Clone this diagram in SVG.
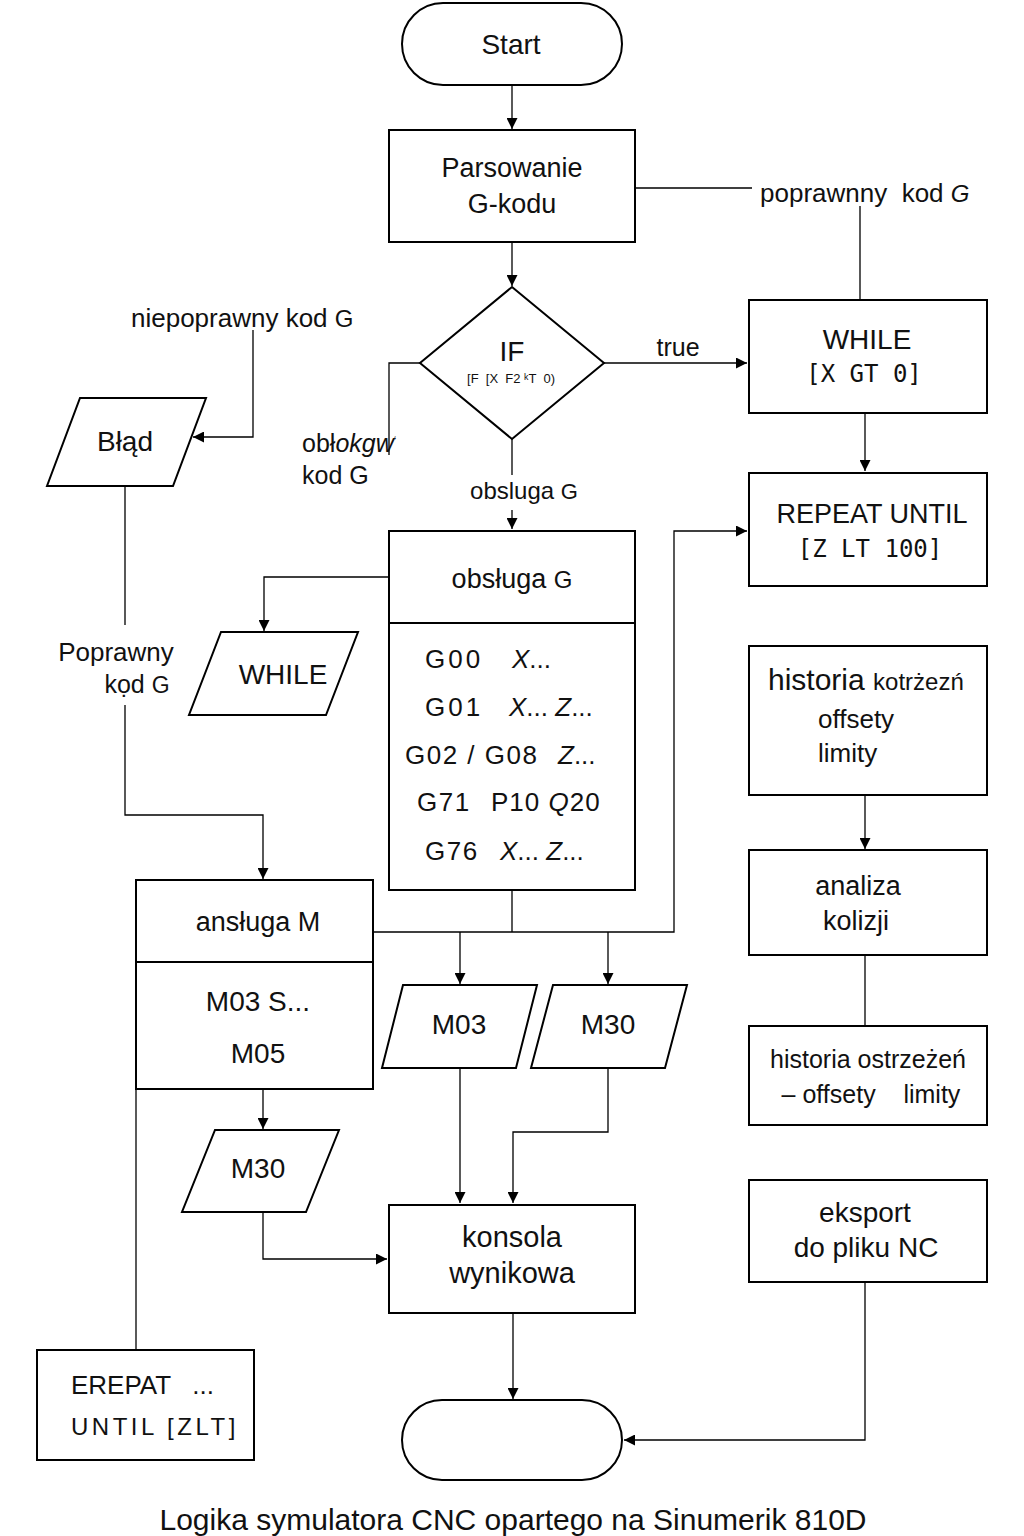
<svg xmlns="http://www.w3.org/2000/svg" width="1024" height="1536" viewBox="0 0 1024 1536" font-size="26">
<style>
.s{fill:#fff;stroke:#000;stroke-width:2}
.c{fill:none;stroke:#000;stroke-width:1.3}
text{font-family:"Liberation Sans",Arial,sans-serif;fill:#111}
.m{font-family:"DejaVu Sans Mono","Liberation Mono",monospace}
.mid{text-anchor:middle}
</style>
<defs>
<marker id="a" viewBox="0 0 10 10" refX="10" refY="5" markerWidth="11" markerHeight="11" markerUnits="userSpaceOnUse" orient="auto"><path d="M0,0L10,5L0,10Z" fill="#000"/></marker>
</defs>
<rect width="1024" height="1536" fill="#fff"/>
<g id="connectors">
<path class="c" d="M512,85V129" marker-end="url(#a)"/>
<path class="c" d="M635,188H752M860,206V300"/>
<path class="c" d="M512,242V286" marker-end="url(#a)"/>
<path class="c" d="M604,363H747" marker-end="url(#a)"/>
<path class="c" d="M420,363H389V455"/>
<path class="c" d="M512,439V475"/>
<path class="c" d="M512,510V529" marker-end="url(#a)"/>
<path class="c" d="M389,577H264V631" marker-end="url(#a)"/>
<path class="c" d="M865,413V471" marker-end="url(#a)"/>
<path class="c" d="M512,890V932M373,932H674V531H747" marker-end="url(#a)"/>
<path class="c" d="M460,932V984" marker-end="url(#a)"/>
<path class="c" d="M608,932V984" marker-end="url(#a)"/>
<path class="c" d="M460,1068V1203" marker-end="url(#a)"/>
<path class="c" d="M608,1068V1132H513V1203" marker-end="url(#a)"/>
<path class="c" d="M513,1313V1399" marker-end="url(#a)"/>
<path class="c" d="M865,1282V1440H624" marker-end="url(#a)"/>
<path class="c" d="M865,795V849" marker-end="url(#a)"/>
<path class="c" d="M865,955V1026"/>
<path class="c" d="M253,330V437H193" marker-end="url(#a)"/>
<path class="c" d="M125,486V625M125,705V815H263V879" marker-end="url(#a)"/>
<path class="c" d="M263,1089V1129" marker-end="url(#a)"/>
<path class="c" d="M263,1212V1259H387" marker-end="url(#a)"/>
<path class="c" d="M136,1089V1350"/>
<text x="760" y="202" font-size="26" xml:space="preserve">poprawnny  kod <tspan font-style="italic" font-size="24">G</tspan></text>
<text x="678" y="356" class="mid" font-size="25">true</text>
<text x="302" y="452" font-size="25">obł<tspan font-style="italic">okgw</tspan><tspan font-size="12" dy="-6">ʻ</tspan></text>
<text x="302" y="484" font-size="25">kod G</text>
<text x="524" y="499" class="mid" font-size="24">obsluga <tspan font-size="22">G</tspan></text>
<text x="131" y="327" font-size="26">niepoprawny kod <tspan font-size="24">G</tspan></text>
<text x="116" y="661" class="mid" font-size="26">Poprawny</text>
<text x="137" y="693" class="mid" font-size="25">kọd <tspan font-size="23">G</tspan></text>
</g>
<g id="start"><rect class="s" x="402" y="3" width="220" height="82" rx="41"/><text x="511" y="54" class="mid" font-size="28">Start</text></g>
<g id="parse"><rect class="s" x="389" y="130" width="246" height="112"/><text x="512" y="177" class="mid" font-size="27">Parsowanie</text><text x="512" y="213" class="mid" font-size="27">G-kodu</text></g>
<g id="if"><path class="s" d="M512,287L604,363L512,439L420,363Z"/><text x="512" y="361" class="mid" font-size="28">IF</text><text x="511" y="383" class="mid" font-size="13" xml:space="preserve">[F  [X  F2 ᵏT  0)</text></g>
<g id="while"><rect class="s" x="749" y="300" width="238" height="113"/><text x="867" y="349" class="mid" font-size="28">WHILE</text><text x="864" y="382" class="mid m" font-size="24">[X GT 0]</text></g>
<g id="repeat"><rect class="s" x="749" y="473" width="238" height="113"/><text x="872" y="523" class="mid" font-size="27">REPEAT UNTIL</text><text x="870" y="557" class="mid m" font-size="24">[Z LT 100]</text></g>
<g id="obsluga"><rect class="s" x="389" y="531" width="246" height="359"/><path class="s" d="M389,623H635"/><text x="512" y="588" class="mid" font-size="27">obsługa <tspan font-size="24">G</tspan></text>
<text x="425" y="668" font-size="26" letter-spacing="3">G00</text><text x="512" y="668" font-size="26" font-style="italic">X<tspan font-style="normal">...</tspan></text>
<text x="425" y="716" font-size="26" letter-spacing="3">G01</text><text x="509" y="716" font-size="26" font-style="italic">X<tspan font-style="normal">... </tspan>Z<tspan font-style="normal">...</tspan></text>
<text x="405" y="764" font-size="26" letter-spacing="1.5">G02 / G08</text><text x="558" y="764" font-size="26" font-style="italic">Z<tspan font-style="normal">...</tspan></text>
<text x="417" y="811" font-size="26" letter-spacing="1.5">G71</text><text x="491" y="811" font-size="26" letter-spacing="1">P10 <tspan font-style="italic">Q</tspan>20</text>
<text x="425" y="860" font-size="26" letter-spacing="1.5">G76</text><text x="500" y="860" font-size="26" font-style="italic">X<tspan font-style="normal">... </tspan>Z<tspan font-style="normal">...</tspan></text></g>
<g id="while2"><path class="s" d="M221,632H358L326,715H189Z"/><text x="283" y="684" class="mid" font-size="28">WHILE</text></g>
<g id="blad"><path class="s" d="M80,398H206L173,486H47Z"/><text x="125" y="451" class="mid" font-size="28">Błąd</text></g>
<g id="mobs"><rect class="s" x="136" y="880" width="237" height="209"/><path class="s" d="M136,962H373"/><text x="258" y="931" class="mid" font-size="27">ansługa M</text><text x="258" y="1011" class="mid" font-size="28">M03 S...</text><text x="258" y="1063" class="mid" font-size="28">M05</text></g>
<g id="m03"><path class="s" d="M403,985H537L516,1068H382Z"/><text x="459" y="1034" class="mid" font-size="28">M03</text></g>
<g id="m30a"><path class="s" d="M553,985H687L665,1068H531Z"/><text x="608" y="1034" class="mid" font-size="28">M30</text></g>
<g id="m30b"><path class="s" d="M215,1130H339L306,1212H182Z"/><text x="258" y="1178" class="mid" font-size="28">M30</text></g>
<g id="konsola"><rect class="s" x="389" y="1205" width="246" height="108"/><text x="512" y="1247" class="mid" font-size="29">konsola</text><text x="512" y="1283" class="mid" font-size="29">wynikowa</text></g>
<g id="end"><rect class="s" x="402" y="1400" width="220" height="80" rx="40"/></g>
<g id="erepat"><rect class="s" x="37" y="1350" width="217" height="110"/><text x="71" y="1394" font-size="26" xml:space="preserve">EREPAT   ...</text><text x="71" y="1435" font-size="24" letter-spacing="3.5">UNTIL [ZLT]</text></g>
<g id="historia"><rect class="s" x="749" y="646" width="238" height="149"/><text x="768" y="690" font-size="30">historia <tspan font-size="24">kotrżezń</tspan></text><text x="818" y="728" font-size="26">offsety</text><text x="818" y="762" font-size="26">limity</text></g>
<g id="analiza"><rect class="s" x="749" y="850" width="238" height="105"/><text x="858" y="895" class="mid" font-size="27">analiza</text><text x="856" y="930" class="mid" font-size="27">kolizji</text></g>
<g id="ostrz"><rect class="s" x="749" y="1026" width="238" height="99"/><text x="868" y="1068" class="mid" font-size="25">historia ostrzeżeń</text><text x="871" y="1103" class="mid" font-size="25" xml:space="preserve">– offsety    limity</text></g>
<g id="eksport"><rect class="s" x="749" y="1180" width="238" height="102"/><text x="865" y="1222" class="mid" font-size="28">eksport</text><text x="866" y="1257" class="mid" font-size="28">do pliku NC</text></g>
<text x="513" y="1530" class="mid" font-size="30">Logika symulatora CNC opartego na Sinumerik 810D</text>
</svg>
